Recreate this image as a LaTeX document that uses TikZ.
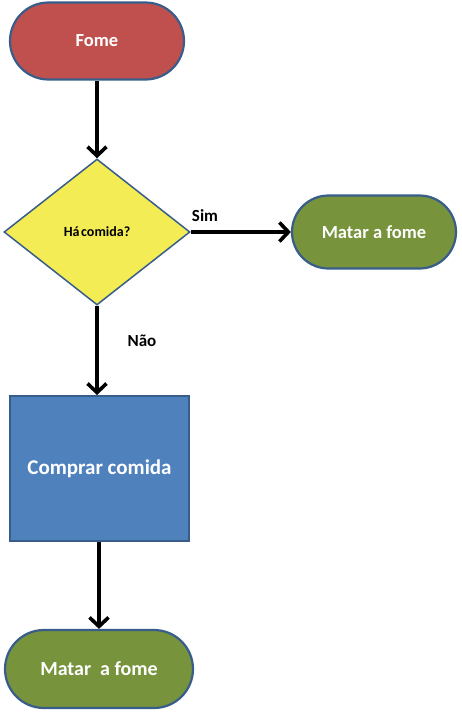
\documentclass[tikz,border=0pt]{standalone}
\usepackage{fontspec}
\setmainfont{Carlito}
\usetikzlibrary{shapes.geometric,shapes.misc,arrows.meta}
\definecolor{fomered}{RGB}{192,80,77}
\definecolor{matargreen}{RGB}{119,147,60}
\definecolor{comprarblue}{RGB}{79,129,189}
\definecolor{perguntayellow}{RGB}{243,236,85}
\definecolor{outlineblue}{RGB}{56,93,138}

\begin{document}
\begin{tikzpicture}[x=1pt,y=1pt,yscale=-1,xscale=1,
	terminal/.style={rounded rectangle,draw=outlineblue,line width=2.2pt,text=white,font=\bfseries\fontsize{18.5}{20}\selectfont,inner sep=0pt},
	processo/.style={rectangle,draw=outlineblue,line width=2pt,fill=comprarblue,text=white,font=\bfseries\fontsize{21}{23}\selectfont,inner sep=0pt},
	pergunta/.style={diamond,draw=outlineblue,line width=1.5pt,fill=perguntayellow,font=\bfseries\fontsize{14}{16}\selectfont,inner sep=0pt},
	seta/.style={line width=3.6pt,-{Straight Barb[length=9pt,width=19pt,line width=3.6pt]}},
	rotulo/.style={font=\bfseries\fontsize{17}{19}\selectfont,inner sep=0pt}]
	%set diagram at 462 x 716
	\useasboundingbox (0,0) rectangle (462,716);
	
	%Shape: Terminal [id:fome]
	\node [terminal,fill=fomered,minimum width=174pt,minimum height=77pt] (fome) at (97,41) {Fome};
	%Shape: Diamond [id:hacomida]
	\node [pergunta,minimum width=186pt,minimum height=146pt] (hacomida) at (97,232) {Há\hspace{0.12em}comida?};
	%Shape: Terminal [id:matarsim]
	\node [terminal,fill=matargreen,minimum width=164pt,minimum height=73pt] (matarsim) at (374,232) {Matar a fome};
	%Shape: Rectangle [id:comprar]
	\node [processo,minimum width=179pt,minimum height=145pt] (comprar) at (99.5,468.5) {Comprar comida};
	%Shape: Terminal [id:matarnao]
	\node [terminal,fill=matargreen,font=\bfseries\fontsize{20}{22}\selectfont,minimum width=188pt,minimum height=78pt] (matarnao) at (99,669) {Matar\hspace{0.45em}a fome};
	
	%Straight Lines [id:setas]
	\draw [seta] (fome.south) -- (hacomida.north);
	\draw [seta] (hacomida.east) -- (matarsim.west);
	\draw [seta] (hacomida.south) -- (comprar.north -| hacomida.south);
	\draw [seta] (comprar.south -| matarnao.north) -- (matarnao.north);
	
	% Text Node
	\node [rotulo] (sim) at (205,216) {Sim};
	% Text Node
	\node [rotulo] (nao) at (142,341) {Não};
	
\end{tikzpicture}
\end{document}
